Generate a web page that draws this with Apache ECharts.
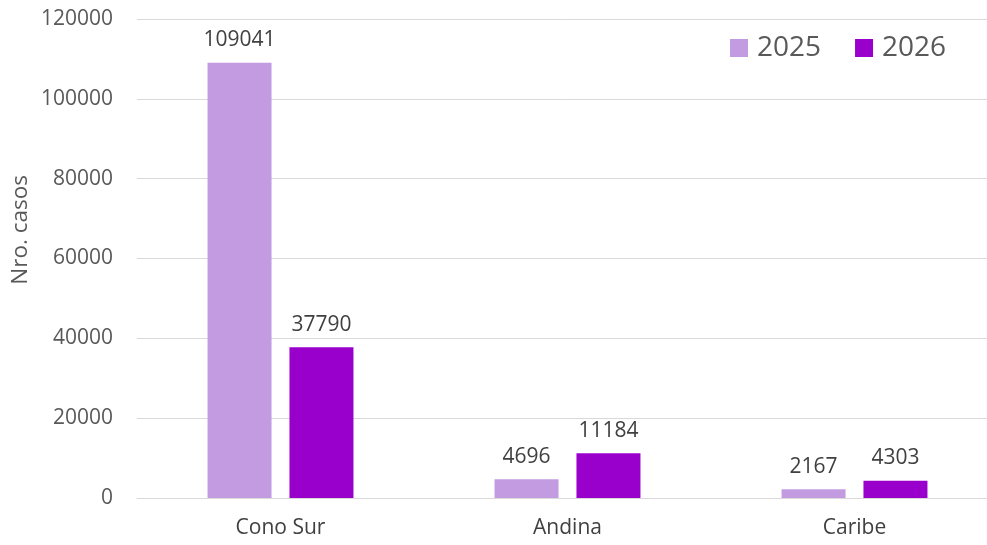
<!DOCTYPE html>
<html>
<head>
<meta charset="utf-8">
<script src="https://cdn.jsdelivr.net/npm/echarts@6/dist/echarts.min.js"></script>
<style>
	html, body { margin: 0; padding: 0; background: #fff; }
	#chart { width: 987px; height: 545px; }
</style>
</head>
<body>
<div id="chart"></div>
<script>
	"use strict";

	var regiones = ['Cono Sur', 'Andina', 'Caribe'];
	var casos2025 = [109041, 4696, 2167];
	var casos2026 = [37790, 11184, 4303];
	var yTicks = [0, 20000, 40000, 60000, 80000, 100000, 120000];

	var fuente = "'Open Sans', 'Noto Sans', sans-serif";

	var labelStyle = {
		show: true,
		position: 'top',
		distance: 12,
		fontSize: 21,
		fontFamily: fuente,
		color: '#404040'
	};

	var option = {
		animation: false,
		grid: {
			left: 137,
			top: 19,
			width: 861,
			height: 479,
			containLabel: false,
			outerBoundsMode: 'none'
		},
		legend: {
			left: 725,
			top: 29,
			itemWidth: 18,
			itemHeight: 18,
			itemGap: 34,
			icon: 'rect',
			textStyle: {
				fontSize: 28,
				fontFamily: fuente,
				color: '#595959',
				padding: [0, 0, 0, 4]
			},
			data: ['2025', '2026']
		},
		xAxis: {
			type: 'category',
			data: regiones,
			axisTick: { show: false },
			axisLine: { lineStyle: { color: '#d9d9d9', width: 1 } },
			axisLabel: {
				margin: 20,
				fontSize: 21,
				fontFamily: fuente,
				color: '#404040'
			}
		},
		yAxis: {
			type: 'value',
			min: yTicks[0],
			max: yTicks[yTicks.length - 1],
			interval: yTicks[1] - yTicks[0],
			axisLine: { show: false },
			axisTick: { show: false },
			splitLine: { lineStyle: { color: '#d9d9d9', width: 1 } },
			axisLabel: {
				margin: 24,
				fontSize: 21,
				fontFamily: fuente,
				color: '#595959',
				formatter: function (v) { return String(v); }
			}
		},
		graphic: [{
			type: 'text',
			left: 9,
			top: 175,
			rotation: Math.PI / 2,
			style: {
				text: 'Nro. casos',
				fontSize: 22.5,
				fontFamily: fuente,
				fill: '#595959'
			}
		}],
		series: [
			{
				name: '2025',
				type: 'bar',
				data: casos2025,
				barWidth: 64,
				barGap: '28%',
				itemStyle: { color: '#c39be0' },
				label: labelStyle
			},
			{
				name: '2026',
				type: 'bar',
				data: casos2026,
				barWidth: 64,
				itemStyle: { color: '#9900cc' },
				label: labelStyle
			}
		]
	};

	var chart = echarts.init(document.getElementById('chart'));
	chart.setOption(option);
</script>
</body>
</html>
